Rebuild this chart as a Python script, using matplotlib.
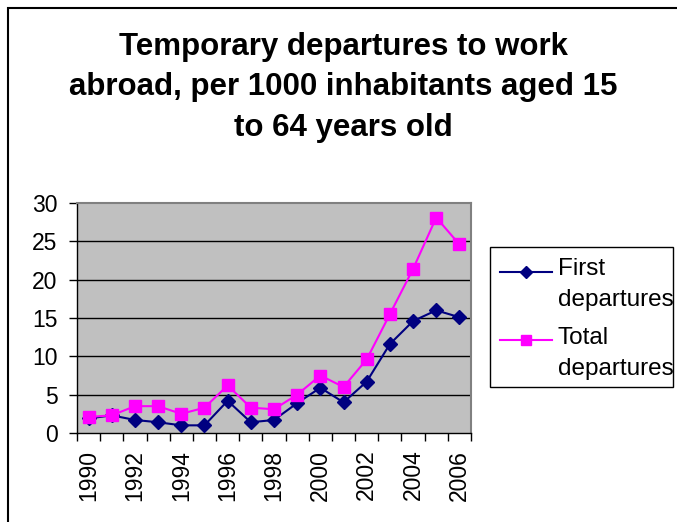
import numpy as np
import matplotlib.pyplot as plt
from matplotlib.patches import Rectangle
from matplotlib.lines import Line2D

years = [str(y) for y in range(1990, 2007)]
first_dep = [1.9, 2.3, 1.7, 1.4, 1.0, 1.0, 4.2, 1.4, 1.7, 3.9, 5.9, 4.0, 6.7, 11.6, 14.6, 16.0, 15.1]
total_dep = [2.1, 2.3, 3.5, 3.5, 2.5, 3.3, 6.2, 3.3, 3.1, 5.0, 7.5, 6.0, 9.6, 15.5, 21.4, 28.1, 24.6]
series_names = ['First departures', 'Total departures']
series_colors = ['#000080', '#FF00FF']
series_markers = ['D', 's']

W, H = 677, 522
plt.rcParams['font.family'] = ['Liberation Sans', 'DejaVu Sans']

fig = plt.figure(figsize=(W / 100, H / 100), dpi=100)

def fx(px):
    return px / W

def fy(py):
    return 1 - py / H

# outer chart border (cut off at right and bottom)
fig.patches.append(Rectangle((fx(8), -0.1), 1.2, 1.1 - 8 / H, transform=fig.transFigure,
                             fill=False, edgecolor='black', linewidth=1.5))

ax = fig.add_axes([fx(77), fy(433), 394 / W, 230 / H])
ax.set_facecolor('#C0C0C0')

x = np.arange(len(years))
ax.plot(x, first_dep, color=series_colors[0], marker=series_markers[0], markersize=7,
        linewidth=1.5, zorder=3)
ax.plot(x, total_dep, color=series_colors[1], marker=series_markers[1], markersize=9,
        linewidth=1.5, zorder=3)

ax.set_xlim(-0.5, len(years) - 0.5)
ax.set_ylim(0, 30)
ax.set_yticks(range(0, 31, 5))
for v in range(5, 30, 5):
    ax.axhline(v, color='black', linewidth=1, zorder=1)

ax.set_xticks(np.arange(-0.5, len(years), 1.0))
ax.set_xticklabels([])
ax.set_xticks(x[::2], minor=True)
ax.set_xticklabels(years[::2], minor=True, rotation=90)
ax.tick_params(axis='x', which='major', direction='out', length=6, width=1)
ax.tick_params(axis='x', which='minor', length=0, pad=12, labelsize=16.5)
ax.tick_params(axis='y', direction='out', length=6, width=1, pad=8, labelsize=16.5)

for s in ['top', 'right']:
    ax.spines[s].set_color('#808080')
    ax.spines[s].set_linewidth(1.5)
for s in ['left', 'bottom']:
    ax.spines[s].set_color('black')
    ax.spines[s].set_linewidth(1)

fig.text(fx(343), fy(32),
         'Temporary departures to work\nabroad, per 1000 inhabitants aged 15\nto 64 years old',
         ha='center', va='top', fontsize=22.5, fontweight='bold', linespacing=1.45)

# legend drawn like the spreadsheet one: marker on the first text line
fig.patches.append(Rectangle((fx(490), fy(387)), (673 - 490) / W, 140 / H,
                             transform=fig.transFigure, fill=False,
                             edgecolor='black', linewidth=1))
handle_y = [271.5, 340]
for i, name in enumerate(series_names):
    word1, word2 = name.split(' ')
    hy = handle_y[i]
    fig.lines.append(Line2D([fx(500), fx(552)], [fy(hy), fy(hy)], transform=fig.transFigure,
                            color=series_colors[i], linewidth=1.5))
    fig.lines.append(Line2D([fx(526)], [fy(hy)], transform=fig.transFigure,
                            color=series_colors[i], marker=series_markers[i],
                            markersize=6 if i == 0 else 7, linestyle='none'))
    fig.text(fx(558), fy(hy + 3.5), word1, fontsize=17.5, va='baseline', ha='left')
    fig.text(fx(558), fy(hy + 34.5), word2, fontsize=17.5, va='baseline', ha='left')

fig.savefig('out.png', dpi=100)
